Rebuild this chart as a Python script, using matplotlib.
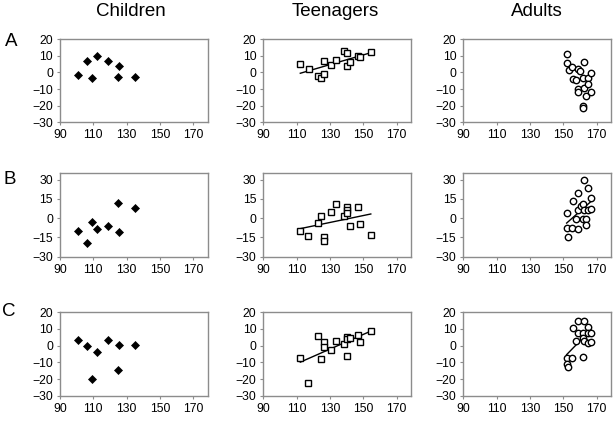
import numpy as np
import matplotlib
matplotlib.use("Agg")
import matplotlib.pyplot as plt

plt.rcParams['font.family'] = ['Liberation Sans', 'DejaVu Sans']

# ---------------- data ----------------
columns = ["Children", "Teenagers", "Adults"]
rows = ["A", "B", "C"]
x_ticks = [90, 110, 130, 150, 170]
y_ticks_AC = [-30, -20, -10, 0, 10, 20]
y_ticks_B = [-30, -15, 0, 15, 30]

children_x = [101, 106, 109, 112, 118.5, 124.5, 125.5, 135]
children_A = [-1.8, 7, -3.2, 9.6, 7, -2.6, 3.8, -2.6]
children_B = [-9.7, -19.1, -3.0, -8.4, -6.3, 11.6, -10.5, 8.2]
children_C = [3.6, 0, -20, -4, 3.4, -14.6, 0.2, 0.2]

teen_A_x = [112.2, 117.2, 122.7, 124.7, 126.5, 126.5, 130.5, 133.5, 138.4, 140.2, 140.2, 142, 146.7, 148.1, 154.5]
teen_A_y = [5, 1.8, -2.2, -3.2, 7, -0.8, 4.4, 7.6, 13, 11.6, 3.6, 6.4, 9.8, 9, 12.4]
teen_B_x = [112.2, 117, 122.9, 124.7, 126.7, 126.7, 130.5, 133.5, 138.4, 140.2, 140.2, 140.2, 142, 147, 148.1, 154.5]
teen_B_y = [-9.7, -14.1, -3.5, 2.0, -14.9, -17.8, 4.6, 11.3, 1.7, 8.5, 6.4, 3.8, -5.8, 9.0, -4.3, -12.8]
teen_C_x = [112.2, 117, 122.7, 124.7, 126.5, 126.5, 130.5, 133.5, 138.4, 140.2, 140.2, 140.2, 142, 147, 148.1, 154.5]
teen_C_y = [-7.6, -22.6, 5.8, -8.2, 2, -0.6, -2.6, 3, 0.8, 5.4, 3.8, -6.4, 4.8, 6.4, 2.4, 9]

adult_A_x = [152, 152, 153.2, 155, 155.6, 157.6, 158.8, 159.8, 158.8, 158.8, 161.6, 162.6, 162.6, 164.6, 165, 166.5, 163.6, 166.5, 161.6, 161.6]
adult_A_y = [10.8, 5.6, 1.2, 3.2, -4, -4.8, 1.8, 1, -10, -12, -3.2, 6.4, -9.6, -3.2, -6.8, -0.2, -14.2, -11.6, -20.2, -21.2]
adult_B_x = [152, 152, 153, 155, 155.6, 157.6, 158.8, 158.8, 158.8, 160.6, 161.6, 162, 163.6, 162.6, 162.6, 163.6, 164.6, 164.6, 166.5, 166.5]
adult_B_y = [4, -7.6, -14.4, -7.6, 13.7, -0.4, 19.9, 6.7, -8.7, 9.5, 11.3, -0.6, -0.6, 29.8, 6.4, -5.3, 23.3, 6.4, 16, 6.9]
adult_C_x = [152, 152, 153, 155, 155.6, 157.6, 158.8, 158.8, 161.6, 162, 162.6, 162.6, 161.6, 164.6, 165, 164.6, 166.5, 166.5]
adult_C_y = [-7.6, -11, -13, -7.2, 10.4, 3, 14.8, 7.8, 7.8, 4.4, 14.8, 2.8, -6.6, 11.4, 7.8, 1.8, 7.4, 2.4]

panels = {
    ("A", 0): (children_x, children_A, False),
    ("B", 0): (children_x, children_B, False),
    ("C", 0): (children_x, children_C, False),
    ("A", 1): (teen_A_x, teen_A_y, True),
    ("B", 1): (teen_B_x, teen_B_y, True),
    ("C", 1): (teen_C_x, teen_C_y, True),
    ("A", 2): (adult_A_x, adult_A_y, False),
    ("B", 2): (adult_B_x, adult_B_y, True),
    ("C", 2): (adult_C_x, adult_C_y, True),
}

# ---------------- layout ----------------
W, H = 616, 421
fig = plt.figure(figsize=(W / 100, H / 100), dpi=100)

col_left = [60, 263.3, 463.3]
col_w = 147.5
row_top = [39, 173.3, 312.3]
row_h = 83.4

grey = "#8c8c8c"
marker_styles = [
    dict(marker="D", ms=4.2, mfc="black", mec="black", mew=0.5),
    dict(marker="s", ms=4.6, mfc="white", mec="black", mew=1.0),
    dict(marker="o", ms=4.6, mfc="white", mec="black", mew=1.0),
]

for ri, r in enumerate(rows):
    for ci in range(3):
        x0 = col_left[ci] / W
        y0 = 1 - (row_top[ri] + row_h) / H
        ax = fig.add_axes([x0, y0, col_w / W, row_h / H])
        xs, ys, trend = panels[(r, ci)]
        xs = np.asarray(xs, float)
        ys = np.asarray(ys, float)
        if trend:
            k, b = np.polyfit(xs, ys, 1)
            xx = np.array([xs.min(), xs.max()])
            ax.plot(xx, k * xx + b, color="black", lw=1.0, zorder=2)
        ax.plot(xs, ys, ls="none", zorder=3, **marker_styles[ci])
        ax.set_xlim(90, 178.5)
        ax.set_xticks(x_ticks)
        if r == "B":
            ax.set_ylim(-30, 35)
            ax.set_yticks(y_ticks_B)
        else:
            ax.set_ylim(-30, 20)
            ax.set_yticks(y_ticks_AC)
        for s in ax.spines.values():
            s.set_color(grey)
            s.set_linewidth(1.0)
        ax.tick_params(direction="out", length=2.5, width=0.8, color=grey,
                       labelsize=8.8, pad=2.5, labelcolor="black")

# column titles
title_x = [131, 335, 537]
for ci, name in enumerate(columns):
    fig.text(title_x[ci] / W, 1 - 12 / H, name, ha="center", va="center", fontsize=13.5)

# row letters
letter_pos = [(11, 42), (10, 179), (9, 311)]
for r, (lx, ly) in zip(rows, letter_pos):
    fig.text(lx / W, 1 - ly / H, r, ha="center", va="center", fontsize=13.5)

fig.savefig("out.png", dpi=100)
